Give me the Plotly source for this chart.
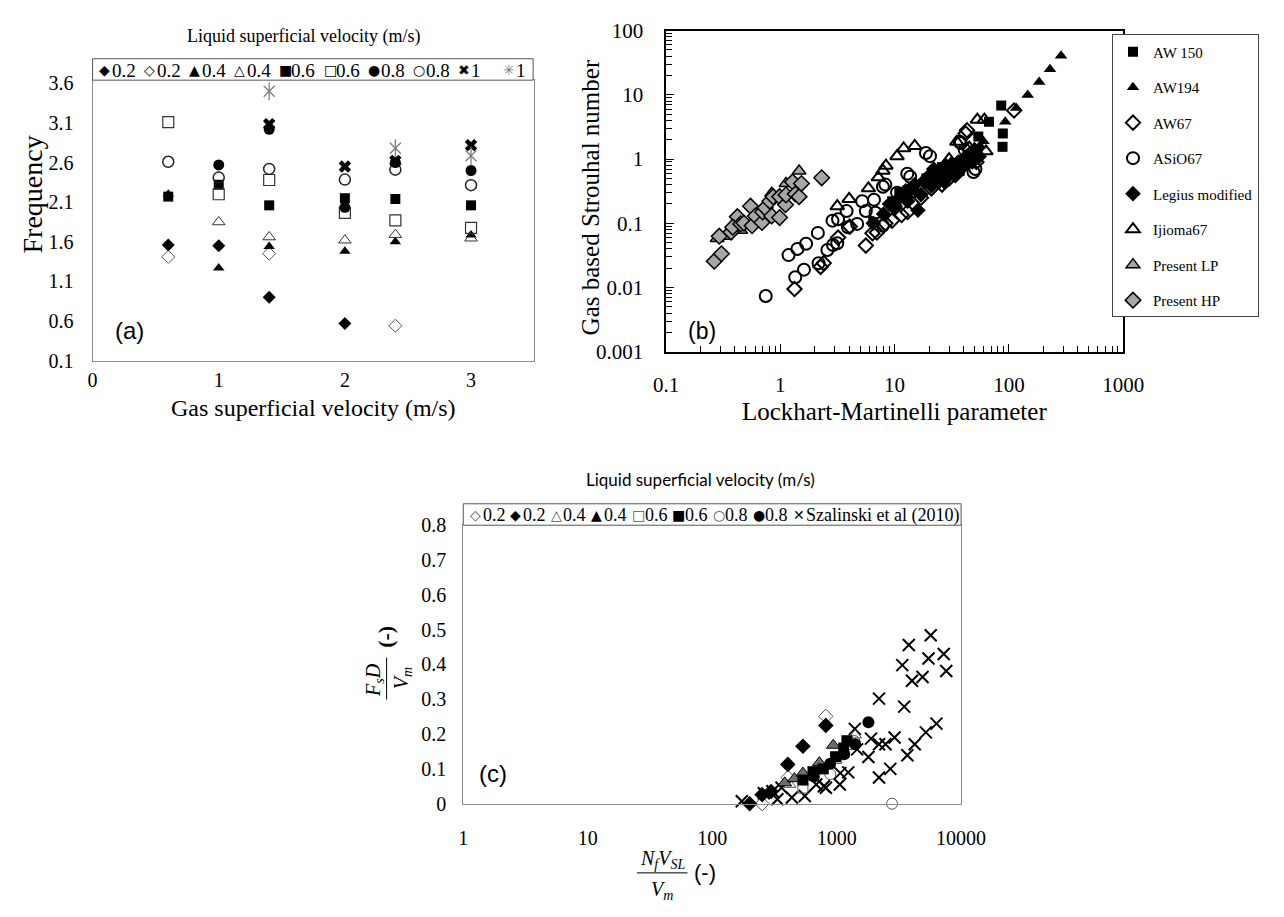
import plotly.graph_objects as go

W, H = 1284, 917
def fx(x): return x / W
def fy(y): return 1 - y / H

SERIF = "Liberation Serif"
SANS = "Liberation Sans"
SYM = "DejaVu Sans"

# ---------------- Panel (a): Frequency vs gas superficial velocity ----------------
a_x_ticks = [0, 1, 2, 3]
a_y_ticks = [0.1, 0.6, 1.1, 1.6, 2.1, 2.6, 3.1, 3.6]
a_y_ticktext = ["0.1", "0.6", "1.1", "1.6", "2.1", "2.6", "3.1", "3.6"]

a02f_x = [0.6, 1.0, 1.4, 2.0]
a02f_y = [1.56, 1.55, 0.90, 0.57]
a02o_x = [0.6, 1.4, 2.4]
a02o_y = [1.41, 1.45, 0.54]
a04f_x = [0.6, 1.0, 1.4, 2.0, 2.4, 3.0]
a04f_y = [2.20, 1.27, 1.54, 1.48, 1.60, 1.685]
a04o_x = [1.0, 1.4, 2.0, 2.4, 3.0]
a04o_y = [1.85, 1.66, 1.62, 1.69, 1.645]
a06f_x = [0.6, 1.0, 1.4, 2.0, 2.4, 3.0]
a06f_y = [2.17, 2.32, 2.06, 2.15, 2.14, 2.06]
a06o_x = [0.6, 1.0, 1.4, 2.0, 2.4, 3.0]
a06o_y = [3.11, 2.20, 2.38, 1.965, 1.87, 1.775]
a08f_x = [1.0, 1.4, 2.0, 2.4, 3.0]
a08f_y = [2.57, 3.02, 2.035, 2.60, 2.50]
a08o_x = [0.6, 1.0, 1.4, 2.0, 2.4, 3.0]
a08o_y = [2.61, 2.41, 2.52, 2.385, 2.51, 2.315]
a1x_x = [1.4, 2.0, 2.4, 3.0]
a1x_y = [3.085, 2.55, 2.62, 2.82]
a1s_x = [1.4, 2.4, 3.0]
a1s_y = [3.50, 2.78, 2.686]

a_legend_labels = ["0.2", "0.2", "0.4", "0.4", "0.6", "0.6", "0.8", "0.8", "1", "1"]
a_legend_glyphs = ["◆", "◇", "▲", "△", "■", "□", "●", "○", "✖", "✳"]
a_legend_colors = ["black"] * 9 + ["#7f7f7f"]

# ---------------- Panel (b): Strouhal vs Lockhart-Martinelli ----------------
b_x_ticks = [0.1, 1, 10, 100, 1000]
b_x_ticktext = ["0.1", "1", "10", "100", "1000"]
b_y_ticks = [0.001, 0.01, 0.1, 1, 10, 100]
b_y_ticktext = ["0.001", "0.01", "0.1", "1", "10", "100"]
b_x_minor = [m * d for d in [0.1, 1, 10, 100] for m in range(2, 10)]
b_y_minor = [m * d for d in [0.001, 0.01, 0.1, 1, 10] for m in range(2, 10)]

aw150_x = [85.7, 67, 88.5, 88, 54, 9.5, 11, 13, 19, 23, 26, 29, 33, 37, 44, 52, 6.5]
aw150_y = [6.8, 3.8, 2.5, 1.55, 2.24, 0.22, 0.30, 0.27, 0.50, 0.42, 0.75, 0.55, 0.85, 0.65, 1.05, 1.3, 0.105]
aw194_x = [93, 116, 146, 184, 229, 286, 10.5, 12.5, 15, 18, 22, 26, 31, 35, 41, 47, 56, 60]
aw194_y = [3.8, 6.2, 9.9, 15.8, 25, 40.6, 0.20, 0.35, 0.30, 0.50, 0.45, 0.70, 0.90, 0.75, 1.1, 1.3, 1.6, 1.9]
aw67_x = [1.33, 2.25, 2.4, 4.05, 5.6, 7.0, 8.3, 6.4, 11.5, 13, 17, 21, 26, 30, 35, 43, 48, 52, 41.8, 111, 9.5, 3.2]
aw67_y = [0.0095, 0.021, 0.024, 0.089, 0.045, 0.072, 0.10, 0.07, 0.135, 0.15, 0.25, 0.35, 0.40, 0.50, 0.60, 2.8, 1.1, 0.9, 2.5, 5.7, 0.11, 0.06]
asio67_x = [0.745, 1.18, 1.41, 1.68, 2.13, 1.35, 1.61, 2.16, 2.58, 2.89, 3.15, 2.86, 3.2, 3.8, 3.9, 4.7, 5.2,
            5.6, 6.6, 6.8, 7.9, 7.9, 8.3, 10.5, 12.9, 13.7, 14.4, 18.8, 20.4, 37, 38, 41, 49, 51]
asio67_y = [0.0074, 0.032, 0.040, 0.048, 0.071, 0.0145, 0.019, 0.024, 0.0385, 0.046, 0.049, 0.11, 0.116, 0.155, 0.087, 0.098, 0.22,
            0.155, 0.233, 0.146, 0.37, 0.092, 0.40, 0.30, 0.59, 0.53, 0.316, 1.24, 1.11, 1.86, 1.78, 1.39, 0.63, 0.70]
legius_x = [6.5, 8, 9, 10, 11, 12, 13, 14, 15, 16, 17, 18, 20, 21, 22, 24, 25, 27, 28, 30, 32, 34, 36, 38, 40, 42, 45, 48, 50, 55]
legius_y = [0.10, 0.14, 0.20, 0.17, 0.25, 0.30, 0.22, 0.35, 0.40, 0.16, 0.28, 0.45, 0.55, 0.38, 0.70, 0.50, 0.62, 0.45, 0.80, 0.60,
            0.75, 0.55, 0.90, 0.70, 1.0, 0.85, 1.2, 0.90, 1.4, 1.1]
ijioma_x = [3.15, 4.0, 5.9, 7.2, 7.9, 8.4, 10.5, 12, 15, 35, 53, 61, 63, 30, 45]
ijioma_y = [0.185, 0.24, 0.35, 0.52, 0.66, 0.79, 1.11, 1.47, 1.6, 1.85, 4.1, 4.1, 1.32, 1.0, 1.5]
lp_x = [0.28, 0.33, 0.45, 0.625, 0.84, 1.12, 1.46]
lp_y = [0.058, 0.063, 0.078, 0.11, 0.293, 0.415, 0.65]
hp_x = [0.264, 0.305, 0.292, 0.37, 0.42, 0.383, 0.45, 0.48, 0.548, 0.566, 0.604, 0.69, 0.70, 0.735, 0.81, 0.84,
        0.865, 0.985, 0.985, 1.11, 1.12, 1.28, 1.35, 1.46, 1.53, 2.30]
hp_y = [0.0257, 0.0336, 0.063, 0.073, 0.127, 0.087, 0.098, 0.101, 0.185, 0.092, 0.130, 0.103, 0.150, 0.174, 0.22, 0.130,
        0.26, 0.26, 0.123, 0.195, 0.277, 0.44, 0.286, 0.26, 0.415, 0.51]

# ---------------- Panel (c): dimensionless frequency ----------------
c_x_ticks = [1, 10, 100, 1000, 10000]
c_x_ticktext = ["1", "10", "100", "1000", "10000"]
c_y_ticks = [0, 0.1, 0.2, 0.3, 0.4, 0.5, 0.6, 0.7, 0.8]
c_y_ticktext = ["0", "0.1", "0.2", "0.3", "0.4", "0.5", "0.6", "0.7", "0.8"]

szal_x = [5700, 3800, 5470, 7250, 3370, 7600, 4030, 4900, 2190, 3490, 6340, 5210, 4240, 3700, 2700, 2190, 2920, 2470,
          2190, 1890, 1800, 1460, 1400, 1240, 1070, 1060, 820, 685, 555, 437, 334, 305, 260, 173, 361, 790]
szal_y = [0.484, 0.456, 0.417, 0.43, 0.398, 0.381, 0.353, 0.364, 0.302, 0.279, 0.230, 0.205, 0.171, 0.139, 0.10, 0.0755,
          0.19, 0.171, 0.171, 0.187, 0.134, 0.156, 0.215, 0.09, 0.088, 0.055, 0.046, 0.055, 0.022, 0.018, 0.013, 0.036,
          0.03, 0.007, 0.046, 0.05]
c02o_x = [819, 252, 407]
c02o_y = [0.251, 0.0, 0.075]
c02f_x = [819, 536, 405, 297, 252, 200]
c02f_y = [0.225, 0.165, 0.113, 0.035, 0.026, 0.0]
c04o_x = [1410, 536, 420]
c04o_y = [0.197, 0.075, 0.055]
c04f_x = [383, 458, 536, 727, 940]
c04f_y = [0.06, 0.072, 0.088, 0.118, 0.168]
c06o_x = [536, 1000, 1300]
c06o_y = [0.045, 0.13, 0.17]
c06f_x = [536, 645, 781, 980, 1210, 1140]
c06f_y = [0.068, 0.092, 0.10, 0.135, 0.181, 0.16]
c08o_x = [2790, 890, 1390]
c08o_y = [0.0, 0.085, 0.18]
c08f_x = [1800, 1410, 1150, 887, 656]
c08f_y = [0.234, 0.171, 0.142, 0.115, 0.078]

c_legend_labels = ["0.2", "0.2", "0.4", "0.4", "0.6", "0.6", "0.8", "0.8", "Szalinski et al (2010)"]
c_legend_glyphs = ["◇", "◆", "△", "▲", "□", "■", "○", "●", "✕"]
c_legend_colors = ["#555555", "black", "#555555", "black", "#555555", "black", "#555555", "black", "black"]

fig = go.Figure()

def add(x, y, xa, ya, symbol, size, color, lw=0, lcolor=None, name=None, legend=False, rank=None):
    fig.add_trace(go.Scatter(
        x=x, y=y, mode="markers", xaxis=xa, yaxis=ya, name=name, showlegend=legend,
        legendgroup=name if legend else None, legendrank=rank if rank else 1000,
        cliponaxis=False,
        marker=dict(symbol=symbol, size=size, color=color,
                    line=dict(width=lw, color=lcolor if lcolor else color))))

# panel (a)
add(a02f_x, a02f_y, "x", "y", "diamond", 10, "black")
add(a02o_x, a02o_y, "x", "y", "diamond-open", 10, "#555555", 1)
add(a04f_x, a04f_y, "x", "y", "triangle-up", 10, "black")
add(a04o_x, a04o_y, "x", "y", "triangle-up-open", 11, "#333333", 1)
add(a06f_x, a06f_y, "x", "y", "square", 10, "black")
add(a06o_x, a06o_y, "x", "y", "square-open", 11, "#333333", 1.2)
add(a08f_x, a08f_y, "x", "y", "circle", 11, "black")
add(a08o_x, a08o_y, "x", "y", "circle-open", 11, "#222222", 1.5)
add(a1x_x, a1x_y, "x", "y", "x", 11, "black")
add(a1s_x, a1s_y, "x", "y", "x-thin-open", 11, "#777777", 1.2)
add(a1s_x, a1s_y, "x", "y", "line-ns-open", 13, "#777777", 1.2)

# panel (b)
add(aw67_x, aw67_y, "x2", "y2", "diamond-open", 11, "black", 2, name="AW67", legend=True, rank=3)
add(asio67_x, asio67_y, "x2", "y2", "circle-open", 12, "black", 2, name="ASiO67", legend=True, rank=4)
add(ijioma_x, ijioma_y, "x2", "y2", "triangle-up-open", 12, "black", 2, name="Ijioma67", legend=True, rank=6)
add(legius_x, legius_y, "x2", "y2", "diamond", 12, "black", name="Legius modified", legend=True, rank=5)
add(aw150_x, aw150_y, "x2", "y2", "square", 10, "black", name="AW 150", legend=True, rank=1)
add(aw194_x, aw194_y, "x2", "y2", "triangle-up", 11, "black", name="AW194", legend=True, rank=2)
add(lp_x, lp_y, "x2", "y2", "triangle-up", 12, "#a6a6a6", 1.5, "black", name="Present LP", legend=True, rank=7)
add(hp_x, hp_y, "x2", "y2", "diamond", 12, "#a6a6a6", 1.5, "black", name="Present HP", legend=True, rank=8)
# empty carrier trace for the minor-tick overlay axes of panel (b)
fig.add_trace(go.Scatter(x=[], y=[], xaxis="x4", yaxis="y4", mode="markers", showlegend=False, hoverinfo="skip"))

# panel (c)
add(szal_x, szal_y, "x3", "y3", "x-thin-open", 12, "black", 2)
add(c02o_x, c02o_y, "x3", "y3", "diamond-open", 11, "#555555", 1)
add(c04o_x, c04o_y, "x3", "y3", "triangle-up-open", 11, "#555555", 1)
add(c06o_x, c06o_y, "x3", "y3", "square-open", 10, "#555555", 1)
add(c08o_x, c08o_y, "x3", "y3", "circle-open", 11, "#555555", 1)
add(c02f_x, c02f_y, "x3", "y3", "diamond", 12, "black")
add(c04f_x, c04f_y, "x3", "y3", "triangle-up", 12, "#6e6e6e", 1, "black")
add(c06f_x, c06f_y, "x3", "y3", "square", 11, "black")
add(c08f_x, c08f_y, "x3", "y3", "circle", 12, "black")

tickfont = dict(family=SERIF, size=20, color="black")
tickfont_b = dict(family=SERIF, size=21, color="black")
common = dict(showgrid=False, zeroline=False, showline=True, mirror=True)

annotations = []
shapes = []

def ann(text, x, y, size, family=SERIF, xanchor="center", angle=0, color="black", yanchor="middle"):
    annotations.append(dict(text=text, x=fx(x), y=fy(y), xref="paper", yref="paper", showarrow=False,
                            xanchor=xanchor, yanchor=yanchor, textangle=angle,
                            font=dict(family=family, size=size, color=color)))

# panel (a) texts
ann("Liquid superficial velocity (m/s)", 299, 25, 18)
shapes.append(dict(type="rect", xref="paper", yref="paper", x0=fx(82), x1=fx(536), y0=fy(48), y1=fy(70),
                   line=dict(color="#555555", width=1), fillcolor="white", layer="above"))
for i, (g, lab, col) in enumerate(zip(a_legend_glyphs, a_legend_labels, a_legend_colors)):
    x0 = 87 + i * 46.2
    ann(g, x0, 60, 14, family=SYM, xanchor="left", color=col)
    ann(lab, x0 + 13, 60, 19, xanchor="left")
ann("Frequency", 20, 187, 28, angle=-90)
ann("Gas superficial velocity (m/s)", 310, 407, 24)
ann("(a)", 120, 327, 24, family=SANS)

# panel (b) texts
ann("Gas based Strouhal number", 595, 190, 25, angle=-90)
ann("Lockhart-Martinelli parameter", 908, 410, 25)
ann("(b)", 710, 328, 23, family=SANS)

# panel (c) texts
ann("Liquid superficial velocity (m/s)", 708, 480, 17, family="Lato")
shapes.append(dict(type="rect", xref="paper", yref="paper", x0=fx(464), x1=fx(977), y0=fy(505), y1=fy(527),
                   line=dict(color="#555555", width=1), fillcolor="white", layer="above"))
c_pos = [469, 510, 552, 594, 636, 677, 719, 760, 802]
for xp, g, lab, col in zip(c_pos, c_legend_glyphs, c_legend_labels, c_legend_colors):
    ann(g, xp, 517, 14, family=SYM, xanchor="left", color=col)
    ann(lab, xp + 13, 517, 18, xanchor="left")
ann("(c)", 495, 782, 24, family=SANS)
# x title fraction
ann("<i>N<sub>f</sub>V<sub>SL</sub></i>", 669, 870, 20)
ann("<i>V<sub>m</sub></i>", 669, 902, 20)
shapes.append(dict(type="line", xref="paper", yref="paper", x0=fx(643), x1=fx(695), y0=fy(884), y1=fy(884),
                   line=dict(color="black", width=1)))
ann("(-)", 713, 884, 22, family=SANS)
# y title fraction (rotated)
ann("<i>F<sub>s</sub>D</i>", 372, 686, 20, angle=-90)
ann("<i>V<sub>m</sub></i>", 401, 684, 20, angle=-90)
shapes.append(dict(type="line", xref="paper", yref="paper", x0=fx(385), x1=fx(385), y0=fy(663), y1=fy(706),
                   line=dict(color="black", width=1)))
ann("<b>(-)</b>", 384, 642, 22, angle=-90)

b_xdom = [fx(673), fx(1144)]
b_ydom = [fy(349), fy(19)]

fig.update_layout(
    width=W, height=H, margin=dict(l=0, r=0, t=0, b=0),
    paper_bgcolor="white", plot_bgcolor="white",
    showlegend=True,
    legend=dict(x=1.0, y=fy(23), xanchor="right", yanchor="top", bordercolor="#444444", borderwidth=1,
                bgcolor="white", font=dict(family=SERIF, size=15, color="black"), tracegroupgap=13,
                itemwidth=30, traceorder="grouped"),
    xaxis=dict(domain=[fx(82), fx(537)], range=[0, 3.5], tickmode="array", tickvals=a_x_ticks,
               ticktext=[str(v) for v in a_x_ticks], ticks="", linecolor="#8c8c8c", linewidth=1,
               tickfont=tickfont, ticklabelstandoff=1, anchor="y", **common),
    yaxis=dict(domain=[fy(358), fy(70)], range=[0.1, 3.64], tickmode="array", tickvals=a_y_ticks,
               ticktext=a_y_ticktext, ticks="", linecolor="#8c8c8c", linewidth=1,
               tickfont=tickfont, ticklabelstandoff=14, anchor="x", **common),
    xaxis2=dict(domain=b_xdom, type="log", range=[-1, 3], tickmode="array", tickvals=b_x_ticks,
                ticktext=b_x_ticktext, ticks="inside", ticklen=8, tickcolor="black",
                linecolor="black", linewidth=1.5, tickfont=tickfont_b, ticklabelstandoff=13, anchor="y2", **common),
    yaxis2=dict(domain=b_ydom, type="log", range=[-3, 2], tickmode="array", tickvals=b_y_ticks,
                ticktext=b_y_ticktext, ticks="inside", ticklen=8, tickcolor="black",
                linecolor="black", linewidth=1.5, tickfont=tickfont_b, ticklabelstandoff=17, anchor="x2", **common),
    xaxis4=dict(domain=b_xdom, type="log", range=[-1, 3], overlaying="x2", anchor="y2", side="bottom",
                tickmode="array", tickvals=b_x_minor, ticks="inside", ticklen=6, tickcolor="black",
                showticklabels=False, showgrid=False, zeroline=False, showline=False),
    yaxis4=dict(domain=b_ydom, type="log", range=[-3, 2], overlaying="y2", anchor="x2", side="left",
                tickmode="array", tickvals=b_y_minor, ticks="inside", ticklen=6, tickcolor="black",
                showticklabels=False, showgrid=False, zeroline=False, showline=False),
    xaxis3=dict(domain=[fx(464), fx(977)], type="log", range=[0, 4], tickmode="array", tickvals=c_x_ticks,
                ticktext=c_x_ticktext, ticks="", linecolor="#8c8c8c", linewidth=1,
                tickfont=tickfont, ticklabelstandoff=16, anchor="y3", **common),
    yaxis3=dict(domain=[fy(813), fy(527)], range=[0, 0.8], tickmode="array", tickvals=c_y_ticks,
                ticktext=c_y_ticktext, ticks="", linecolor="#8c8c8c", linewidth=1,
                tickfont=tickfont, ticklabelstandoff=12, anchor="x3", **common),
    annotations=annotations,
    shapes=shapes,
)

fig.write_html("out.html")
